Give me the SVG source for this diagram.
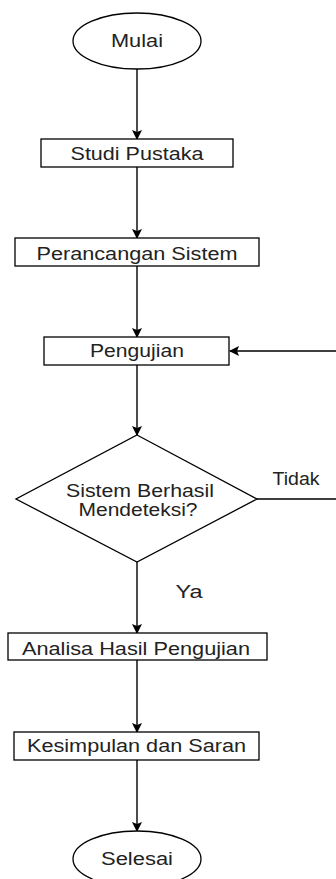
<svg xmlns="http://www.w3.org/2000/svg" width="336" height="879" viewBox="0 0 336 879">
<style>
.n{fill:#fff;stroke:#000;stroke-width:1.3}
.t{font-family:"Liberation Sans",Arial,sans-serif;font-size:17.5px;fill:#222;text-anchor:middle}
.e{fill:none;stroke:#000;stroke-width:1.4}
</style>
<defs>
<marker id="a" markerWidth="12" markerHeight="12" refX="9" refY="5" orient="auto" markerUnits="userSpaceOnUse">
<path d="M0,0 L10,5 L0,10 L2,5 z" fill="#000"/>
</marker>
</defs>
<rect width="336" height="879" fill="#fff"/>
<g id="connectors">
<line class="e" x1="137" y1="69" x2="137" y2="139" marker-end="url(#a)"/>
<line class="e" x1="137" y1="167" x2="137" y2="238" marker-end="url(#a)"/>
<line class="e" x1="137" y1="266" x2="137" y2="337" marker-end="url(#a)"/>
<line class="e" x1="137" y1="365" x2="137" y2="435" marker-end="url(#a)"/>
<line class="e" x1="137" y1="562" x2="137" y2="633" marker-end="url(#a)"/>
<line class="e" x1="137" y1="660" x2="137" y2="732" marker-end="url(#a)"/>
<line class="e" x1="137" y1="760" x2="137" y2="831" marker-end="url(#a)"/>
<polyline class="e" points="257,499 338,499 338,351 230,351" marker-end="url(#a)"/>
<text class="t" x="296" y="485" textLength="47" lengthAdjust="spacingAndGlyphs">Tidak</text>
<text class="t" x="189" y="598" textLength="27" lengthAdjust="spacingAndGlyphs">Ya</text>
</g>
<g id="mulai">
<ellipse class="n" cx="137" cy="41" rx="64" ry="28"/>
<text class="t" x="137" y="47" textLength="52" lengthAdjust="spacingAndGlyphs">Mulai</text>
</g>
<g id="studi">
<rect class="n" x="41" y="139" width="192" height="28"/>
<text class="t" x="137" y="160" textLength="133" lengthAdjust="spacingAndGlyphs">Studi Pustaka</text>
</g>
<g id="perancangan">
<rect class="n" x="15" y="238" width="244" height="28"/>
<text class="t" x="137" y="260" textLength="201" lengthAdjust="spacingAndGlyphs">Perancangan Sistem</text>
</g>
<g id="pengujian">
<rect class="n" x="44" y="337" width="185" height="28"/>
<text class="t" x="137" y="357" textLength="94" lengthAdjust="spacingAndGlyphs">Pengujian</text>
</g>
<g id="keputusan">
<polygon class="n" points="137,435 257,499 137,562 16,499"/>
<text class="t" x="140" y="497" textLength="148" lengthAdjust="spacingAndGlyphs">Sistem Berhasil</text>
<text class="t" x="138" y="516" textLength="119" lengthAdjust="spacingAndGlyphs">Mendeteksi?</text>
</g>
<g id="analisa">
<rect class="n" x="8" y="633" width="259" height="27"/>
<text class="t" x="136" y="655" textLength="228" lengthAdjust="spacingAndGlyphs">Analisa Hasil Pengujian</text>
</g>
<g id="kesimpulan">
<rect class="n" x="14" y="732" width="245" height="28"/>
<text class="t" x="136.5" y="752" textLength="219" lengthAdjust="spacingAndGlyphs">Kesimpulan dan Saran</text>
</g>
<g id="selesai">
<ellipse class="n" cx="137" cy="859" rx="64" ry="28"/>
<text class="t" x="137" y="865" textLength="72" lengthAdjust="spacingAndGlyphs">Selesai</text>
</g>
</svg>
